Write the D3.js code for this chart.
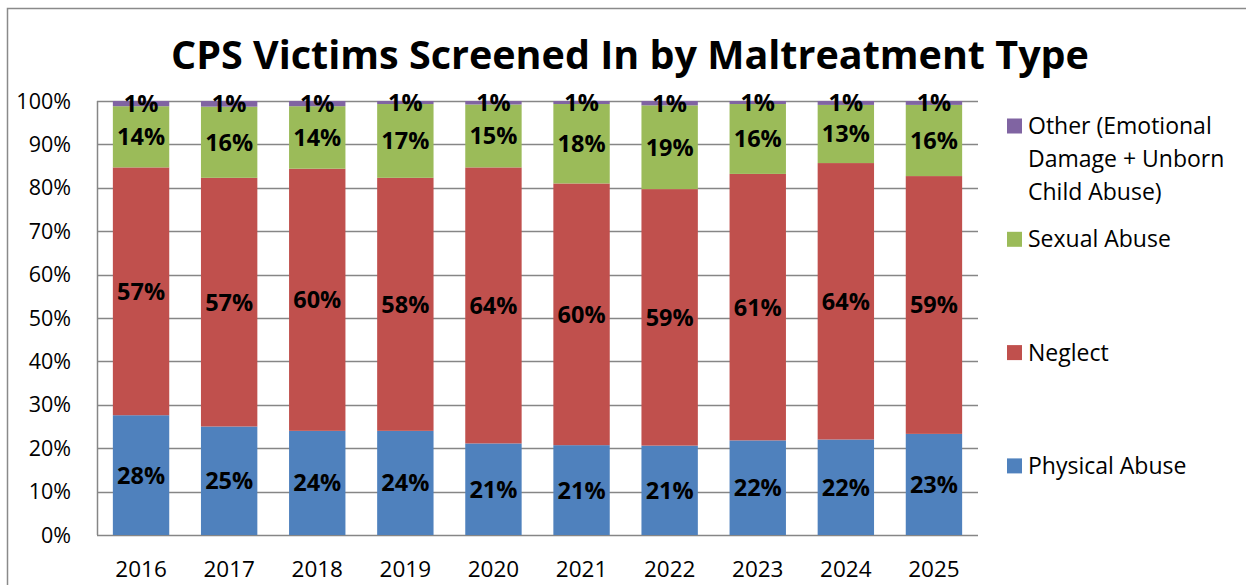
<!DOCTYPE html>
<html>
<head>
<meta charset="utf-8">
<script src="https://cdn.jsdelivr.net/npm/d3@7"></script>
<style>
  html, body { margin: 0; padding: 0; background: #fff; }
  svg { display: block; font-family: "Open Sans", sans-serif; }
</style>
</head>
<body>
<script>
// Data (percent of screened-in victims)
const years = ["2016", "2017", "2018", "2019", "2020", "2021", "2022", "2023", "2024", "2025"];
const physicalAbuse = [27.6, 25.0, 24.0, 24.0, 21.1, 20.7, 20.6, 21.8, 22.0, 23.3];
const neglect       = [57.1, 57.3, 60.4, 58.3, 63.6, 60.3, 59.1, 61.4, 63.7, 59.4];
const sexualAbuse   = [14.1, 16.4, 14.4, 17.0, 14.5, 18.3, 19.3, 16.1, 13.4, 16.4];
const other         = [1.2, 1.3, 1.2, 0.7, 0.8, 0.7, 1.0, 0.7, 0.9, 0.9];
const yTicks = [0, 10, 20, 30, 40, 50, 60, 70, 80, 90, 100];

const seriesNames = ["Physical Abuse", "Neglect", "Sexual Abuse", "Other (Emotional Damage + Unborn Child Abuse)"];
const seriesValues = [physicalAbuse, neglect, sexualAbuse, other];
const colors = ["#4F81BD", "#C0504D", "#9BBB59", "#8064A2"];

const W = 1246, H = 585;
const plot = { left: 97, right: 978, top: 101, bottom: 535 };

const svg = d3.select("body").append("svg")
    .attr("width", W)
    .attr("height", H);

// frame (only top and left edges show in the crop)
svg.append("path")
    .attr("d", `M7.5,${H} V8.5 H${W}`)
    .attr("fill", "none")
    .attr("stroke", "#8a8a8a")
    .attr("stroke-width", 1.5);

svg.append("text")
    .attr("x", 630)
    .attr("y", 69)
    .attr("text-anchor", "middle")
    .attr("font-size", 39.5)
    .attr("font-weight", 700)
    .attr("fill", "#000")
    .text("CPS Victims Screened In by Maltreatment Type");

const x = d3.scaleBand()
    .domain(years)
    .range([plot.left, plot.right])
    .paddingInner(0.36)
    .paddingOuter(0.18);

const y = d3.scaleLinear()
    .domain([0, 100])
    .range([plot.bottom, plot.top]);

// gridlines
svg.append("g")
    .selectAll("line")
    .data(yTicks)
    .join("line")
    .attr("x1", plot.left)
    .attr("x2", plot.right)
    .attr("y1", d => Math.round(y(d)) + 0.5)
    .attr("y2", d => Math.round(y(d)) + 0.5)
    .attr("stroke", "#868686")
    .attr("stroke-width", 1.5);

// y axis line
svg.append("line")
    .attr("x1", plot.left + 0.5).attr("x2", plot.left + 0.5)
    .attr("y1", plot.top).attr("y2", plot.bottom)
    .attr("stroke", "#868686")
    .attr("stroke-width", 1.5);

// y tick labels
svg.append("g")
    .selectAll("text")
    .data(yTicks)
    .join("text")
    .attr("x", 71)
    .attr("y", d => y(d))
    .attr("dy", "0.35em")
    .attr("text-anchor", "end")
    .attr("font-size", 21.5)
    .attr("fill", "#000")
    .text(d => d + "%");

// x tick labels
svg.append("g")
    .selectAll("text")
    .data(years)
    .join("text")
    .attr("x", d => x(d) + x.bandwidth() / 2)
    .attr("y", 577)
    .attr("text-anchor", "middle")
    .attr("font-size", 22.5)
    .attr("fill", "#000")
    .text(d => d);

// stacked data
const table = years.map((yr, i) => {
    const row = { year: yr };
    seriesNames.forEach((s, j) => row[s] = seriesValues[j][i]);
    return row;
});
const stacked = d3.stack().keys(seriesNames)(table);

const layers = svg.append("g")
    .selectAll("g")
    .data(stacked)
    .join("g")
    .attr("fill", (d, i) => colors[i]);

layers.selectAll("rect")
    .data(d => d)
    .join("rect")
    .attr("x", d => x(d.data.year))
    .attr("width", x.bandwidth())
    .attr("y", d => y(d[1]))
    .attr("height", d => y(d[0]) - y(d[1]));

// data labels
const labels = svg.append("g");
stacked.forEach(layer => {
    labels.selectAll(null)
        .data(layer)
        .join("text")
        .attr("x", d => x(d.data.year) + x.bandwidth() / 2)
        .attr("y", d => y((d[0] + d[1]) / 2))
        .attr("dy", "0.36em")
        .attr("text-anchor", "middle")
        .attr("font-size", 23.5)
        .attr("font-weight", 700)
        .attr("fill", "#000")
        .text(d => Math.round(d[1] - d[0]) + "%");
});

// legend, top to bottom: Other, Sexual, Neglect, Physical
const legendLines = [
    ["Other (Emotional", "Damage + Unborn", "Child Abuse)"],
    ["Sexual Abuse"],
    ["Neglect"],
    ["Physical Abuse"]
];
const legendOrder = [3, 2, 1, 0];
const legend = svg.append("g");
legendOrder.forEach((si, k) => {
    const cy = 126 + k * 113.3;
    legend.append("rect")
        .attr("x", 1007)
        .attr("y", cy - 7.5)
        .attr("width", 15)
        .attr("height", 15)
        .attr("fill", colors[si]);
    const t = legend.append("text")
        .attr("x", 1028)
        .attr("y", cy)
        .attr("font-size", 23)
        .attr("fill", "#000");
    legendLines[k].forEach((ln, li) => {
        t.append("tspan")
            .attr("x", 1028)
            .attr("y", cy + li * 33)
            .attr("dy", "0.35em")
            .text(ln);
    });
});
</script>
</body>
</html>
